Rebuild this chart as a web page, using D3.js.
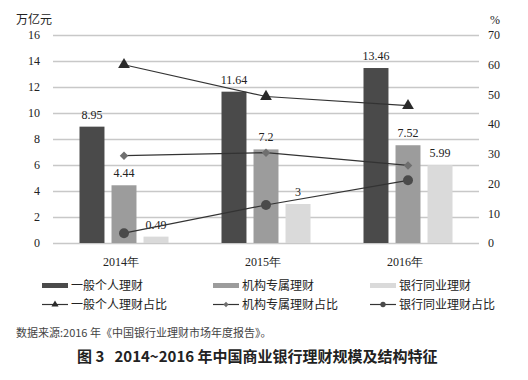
<!DOCTYPE html>
<html><head><meta charset="utf-8">
<script src="https://cdn.jsdelivr.net/npm/d3@7"></script>
<style>
body{margin:0;background:#fff;}
svg{display:block;}
.sf{font-family:'Liberation Serif','Times New Roman',serif;}
</style></head>
<body>
<script>
const years = ["2014","2015","2016"];
const seriesNames = ["一般个人理财","机构专属理财","银行同业理财"];
const personal = [8.95, 11.64, 13.46];
const institutional = [4.44, 7.2, 7.52];
const interbank = [0.49, 3, 5.99];
const pctNames = ["一般个人理财占比","机构专属理财占比","银行同业理财占比"];
const personalPct = [60, 49.3, 46.2];
const institutionalPct = [29.4, 30.4, 26.1];
const interbankPct = [3.3, 12.8, 21.1];
const leftTicks = [0,2,4,6,8,10,12,14,16];
const rightTicks = [0,10,20,30,40,50,60,70];

const W=528,H=380;
const svg=d3.select("body").append("svg").attr("width",W).attr("height",H);
const serif="'Liberation Serif','Times New Roman',serif";
const cjk="'Noto Sans CJK SC',sans-serif";
const barColors=["#4a4a4a","#9c9c9c","#dadada"];
const markColors=["#2a2a2a","#6f6f6f","#4a4a4a"];

const x0=53,x1=479,yTop=35,yBot=243;
const x=d3.scaleBand().domain(years).range([x0,x1]).padding(0);
const xs=d3.scaleBand().domain([0,1,2]).range([-44.5,44.5]).paddingInner(0.22);
const yL=d3.scaleLinear().domain([0,16]).range([yBot,yTop]);
const yR=d3.scaleLinear().domain([0,70]).range([yBot,yTop]);

const gL=svg.append("g").attr("transform",`translate(${x0},0)`)
  .call(d3.axisLeft(yL).tickValues(leftTicks).tickSize(-(x1-x0)).tickPadding(13));
gL.select(".domain").remove();
gL.selectAll("line").attr("stroke","#c8c8c8").attr("stroke-width",1.5);
gL.selectAll("text").style("font-family",serif).style("font-size","12px").attr("fill","#222");

const gR=svg.append("g").attr("transform",`translate(${x1},0)`)
  .call(d3.axisRight(yR).tickValues(rightTicks).tickSize(0).tickPadding(9));
gR.select(".domain").remove();
gR.selectAll("text").style("font-family",serif).style("font-size","12px").attr("fill","#222");

svg.append("text").attr("x",16).attr("y",24).style("font-family",cjk).style("font-size","12px").attr("fill","#222").text("万亿元");
svg.append("text").attr("x",490).attr("y",24).style("font-family",serif).style("font-size","12px").attr("fill","#222").text("%");

const gB=svg.append("g").attr("transform",`translate(0,${yBot})`)
  .call(d3.axisBottom(x).tickSize(0).tickPadding(14).tickFormat(d=>d+"年"));
gB.select(".domain").remove();
gB.selectAll("text").style("font-family",serif).style("font-size","12px").attr("fill","#222").attr("dx",-3);

const barSeries=[personal,institutional,interbank];
barSeries.forEach((vals,si)=>{
  svg.append("g").selectAll("rect").data(vals).join("rect")
    .attr("x",(d,i)=>x(years[i])+x.bandwidth()/2+xs(si))
    .attr("width",xs.bandwidth())
    .attr("y",d=>yL(d))
    .attr("height",d=>yBot-yL(d))
    .attr("fill",barColors[si]);
});
barSeries.forEach((vals,si)=>{
  svg.append("g").selectAll("text").data(vals).join("text")
    .attr("x",(d,i)=>x(years[i])+x.bandwidth()/2+xs(si)+xs.bandwidth()/2)
    .attr("y",d=>yL(d)-8)
    .attr("text-anchor","middle")
    .style("font-family",serif).style("font-size","12px").attr("fill","#222")
    .text(d=>d);
});

const pctSeries=[personalPct,institutionalPct,interbankPct];
const line=d3.line().x((d,i)=>x(years[i])+x.bandwidth()/2).y(d=>yR(d));
const symbols=[d3.symbol(d3.symbolTriangle,60),d3.symbol(d3.symbolSquare,36),d3.symbol(d3.symbolCircle,78)];
const rot=[0,45,0];
pctSeries.forEach((vals,si)=>{
  svg.append("path").datum(vals).attr("d",line).attr("fill","none").attr("stroke","#333").attr("stroke-width",1.2);
});
pctSeries.forEach((vals,si)=>{
  svg.append("g").selectAll("path").data(vals).join("path")
    .attr("d",symbols[si])
    .attr("transform",(d,i)=>`translate(${x(years[i])+x.bandwidth()/2},${yR(d)}) rotate(${rot[si]})`)
    .attr("fill",markColors[si]);
});

const legX=[42,213,370];
const leg=svg.append("g");
seriesNames.forEach((n,i)=>{
  leg.append("rect").attr("x",legX[i]).attr("y",283).attr("width",26).attr("height",5).attr("fill",barColors[i]);
  leg.append("text").attr("x",legX[i]+29).attr("y",290).style("font-family",cjk).style("font-size","12px").attr("fill","#222").text(n);
});
const smallSym=[d3.symbol(d3.symbolTriangle,22),d3.symbol(d3.symbolSquare,14),d3.symbol(d3.symbolCircle,22)];
pctNames.forEach((n,i)=>{
  leg.append("line").attr("x1",legX[i]).attr("x2",legX[i]+26).attr("y1",304.5).attr("y2",304.5).attr("stroke","#333").attr("stroke-width",1.2);
  leg.append("path").attr("d",smallSym[i]).attr("transform",`translate(${legX[i]+13},304.5) rotate(${rot[i]})`).attr("fill",markColors[i]);
  leg.append("text").attr("x",legX[i]+29).attr("y",309).style("font-family",cjk).style("font-size","12px").attr("fill","#222").text(n);
});

svg.append("text").attr("x",16).attr("y",337).style("font-family",cjk).style("font-size","11px").attr("fill","#444")
  .text("数据来源:2016 年《中国银行业理财市场年度报告》。");
svg.append("text").attr("x",77).attr("y",362).style("font-family",cjk).style("font-size","15px").attr("font-weight","bold").attr("fill","#222")
  .style("white-space","pre")
  .text("图 3   2014~2016 年中国商业银行理财规模及结构特征");
</script>
</body></html>
